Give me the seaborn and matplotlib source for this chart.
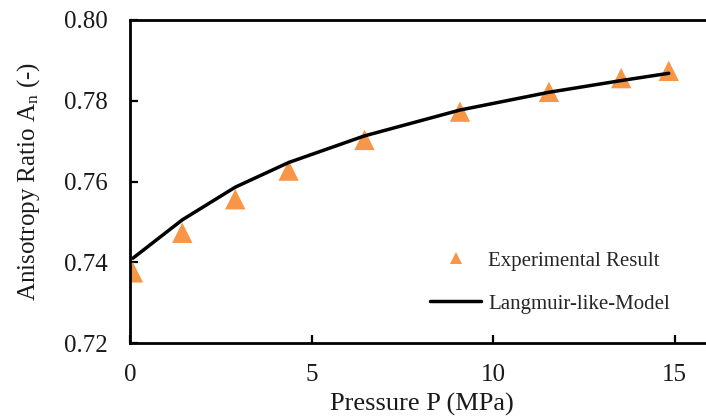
import matplotlib
matplotlib.use("Agg")
import matplotlib.pyplot as plt
from matplotlib.lines import Line2D
import seaborn as sns
import pandas as pd

# Measured anisotropy ratio versus confining pressure
pressure_exp = [0.08, 1.44, 2.90, 4.37, 6.46, 9.09, 11.54, 13.53, 14.84]
ratio_exp = [0.7375, 0.7473, 0.7556, 0.7627, 0.7703, 0.7773, 0.7822, 0.7856, 0.7874]

# Langmuir-like model evaluated at the same pressures
pressure_model = [0.08, 1.44, 2.90, 4.37, 6.46, 9.09, 11.54, 13.53, 14.84]
ratio_model = [0.7410, 0.7505, 0.7586, 0.7647, 0.7713, 0.7777, 0.7821, 0.7850, 0.7868]

x_ticks = [0, 5, 10, 15]
y_ticks = [0.72, 0.74, 0.76, 0.78, 0.80]

ORANGE = "#F79646"
TEXT = "#1a1a1a"

sns.set_theme(style="white")
plt.rcParams["font.family"] = ["Liberation Serif", "DejaVu Serif"]
plt.rcParams["mathtext.fontset"] = "custom"
plt.rcParams["mathtext.rm"] = "Liberation Serif"
plt.rcParams["mathtext.it"] = "Liberation Serif"

exp_df = pd.DataFrame({"P": pressure_exp, "A": ratio_exp})
model_df = pd.DataFrame({"P": pressure_model, "A": ratio_model})

fig = plt.figure(figsize=(7.06, 4.17), dpi=100)
ax = fig.add_axes([130 / 706, 74 / 417, 1 - 130 / 706 + 0.01, 323 / 417])

sns.scatterplot(data=exp_df, x="P", y="A", marker="^", s=215, color=ORANGE,
                edgecolor="none", ax=ax, zorder=2, legend=False)
sns.lineplot(data=model_df, x="P", y="A", color="black", linewidth=2.5,
             ax=ax, zorder=3, legend=False)

ax.set_xlim(0, (706 - 130) / 36.5 + 0.28)
ax.set_ylim(0.72, 0.80)
ax.set_xticks(x_ticks)
ax.set_yticks(y_ticks)
ax.set_yticklabels([f"{v:.2f}" for v in y_ticks])

for side in ["left", "bottom", "top"]:
    ax.spines[side].set_visible(True)
    ax.spines[side].set_color("black")
    ax.spines[side].set_linewidth(2.0)
ax.spines["right"].set_visible(False)

ax.tick_params(axis="both", which="major", direction="in", length=6, width=1.6,
               color="black", labelsize=18, labelcolor=TEXT)
ax.tick_params(axis="y", pad=16, left=True)
ax.tick_params(axis="x", pad=15, bottom=True)

ax.set_xlabel("Pressure P (MPa)", fontsize=19, color=TEXT, labelpad=5)
ax.set_ylabel(r"Anisotropy Ratio A$_{\mathregular{n}}$ (-)", fontsize=18,
              color=TEXT, labelpad=16)

handles = [
    Line2D([], [], marker="^", linestyle="none", color=ORANGE, markersize=9,
           markeredgewidth=0),
    Line2D([], [], color="black", linewidth=2.5),
]
labels = ["Experimental Result", "Langmuir-like-Model"]
ax.legend(handles, labels, loc="upper left",
          bbox_to_anchor=(430 / 706, 1 - 251 / 417),
          bbox_transform=fig.transFigure, frameon=False, fontsize=15,
          handlelength=2.45, handletextpad=0.33, labelspacing=1.12,
          borderpad=0, borderaxespad=0)

fig.savefig("out.png", dpi=100)
